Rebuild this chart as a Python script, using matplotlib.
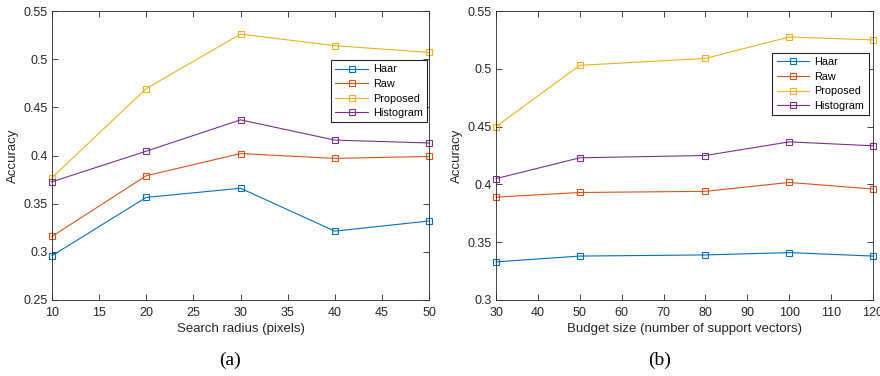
import numpy as np
import matplotlib
matplotlib.use('Agg')
import matplotlib.pyplot as plt

plt.rcParams['font.family'] = ['Liberation Sans', 'DejaVu Sans']
plt.rcParams['font.size'] = 9

# data
radius = [10, 20, 30, 40, 50]
radius_haar = [0.296, 0.3565, 0.366, 0.3215, 0.332]
radius_raw = [0.316, 0.379, 0.402, 0.397, 0.399]
radius_proposed = [0.377, 0.4695, 0.526, 0.514, 0.507]
radius_hist = [0.3727, 0.4045, 0.437, 0.416, 0.413]

budget = [30, 50, 80, 100, 120]
budget_haar = [0.333, 0.338, 0.339, 0.341, 0.338]
budget_raw = [0.389, 0.393, 0.394, 0.4017, 0.396]
budget_proposed = [0.450, 0.503, 0.509, 0.5275, 0.525]
budget_hist = [0.405, 0.423, 0.425, 0.4368, 0.4334]

names = ['Haar', 'Raw', 'Proposed', 'Histogram']
colors = ['#0072BD', '#D95319', '#EDB120', '#7E2F8E']
axcol = '#262626'

fig = plt.figure(figsize=(8.8, 3.76), dpi=100)
ax1 = fig.add_axes([52/880, 76/376, 377/880, 289/376])
ax2 = fig.add_axes([496/880, 76/376, 377/880, 289/376])


def draw(ax, x, series, xticks, ylim, yticks, xlabel, leg_box):
    for ys, c, n in zip(series, colors, names):
        ax.plot(x, ys, color=c, lw=0.8, marker='s', ms=4.5, mfc='none',
                mec=c, mew=0.8, label=n, clip_on=False)
    ax.set_xlim(x[0], x[-1])
    ax.set_ylim(*ylim)
    ax.set_xticks(xticks)
    ax.set_yticks(yticks)
    ax.set_yticklabels(['%g' % v for v in yticks])
    ax.tick_params(direction='in', top=True, right=True, length=4,
                   width=0.6, colors=axcol, labelsize=9)
    ax.tick_params(axis='x', pad=5)
    ax.tick_params(axis='y', pad=3)
    for s in ax.spines.values():
        s.set_color(axcol)
        s.set_linewidth(0.6)
    ax.set_xlabel(xlabel, fontsize=9.5, color=axcol, labelpad=3)
    ax.set_ylabel('Accuracy', fontsize=9.5, color=axcol, labelpad=3)
    leg = ax.legend(loc='upper left', bbox_to_anchor=leg_box, fontsize=7.8,
                    fancybox=False, edgecolor=axcol, framealpha=1,
                    handlelength=3.0, borderpad=0.4, labelspacing=0.42,
                    handletextpad=0.5, borderaxespad=0)
    leg.get_frame().set_linewidth(0.8)


draw(ax1, radius, [radius_haar, radius_raw, radius_proposed, radius_hist],
     np.arange(10, 51, 5), (0.25, 0.55), np.arange(0.25, 0.551, 0.05),
     'Search radius (pixels)', (0.74, 0.83))
draw(ax2, budget, [budget_haar, budget_raw, budget_proposed, budget_hist],
     np.arange(30, 121, 10), (0.3, 0.55), np.arange(0.3, 0.551, 0.05),
     'Budget size (number of support vectors)', (0.733, 0.855))

fig.text(230/880, 1 - 360/376, '(a)', ha='center', va='center',
         fontsize=14, family='Liberation Serif')
fig.text(660/880, 1 - 360/376, '(b)', ha='center', va='center',
         fontsize=14, family='Liberation Serif')

fig.savefig('out.png', dpi=100)
